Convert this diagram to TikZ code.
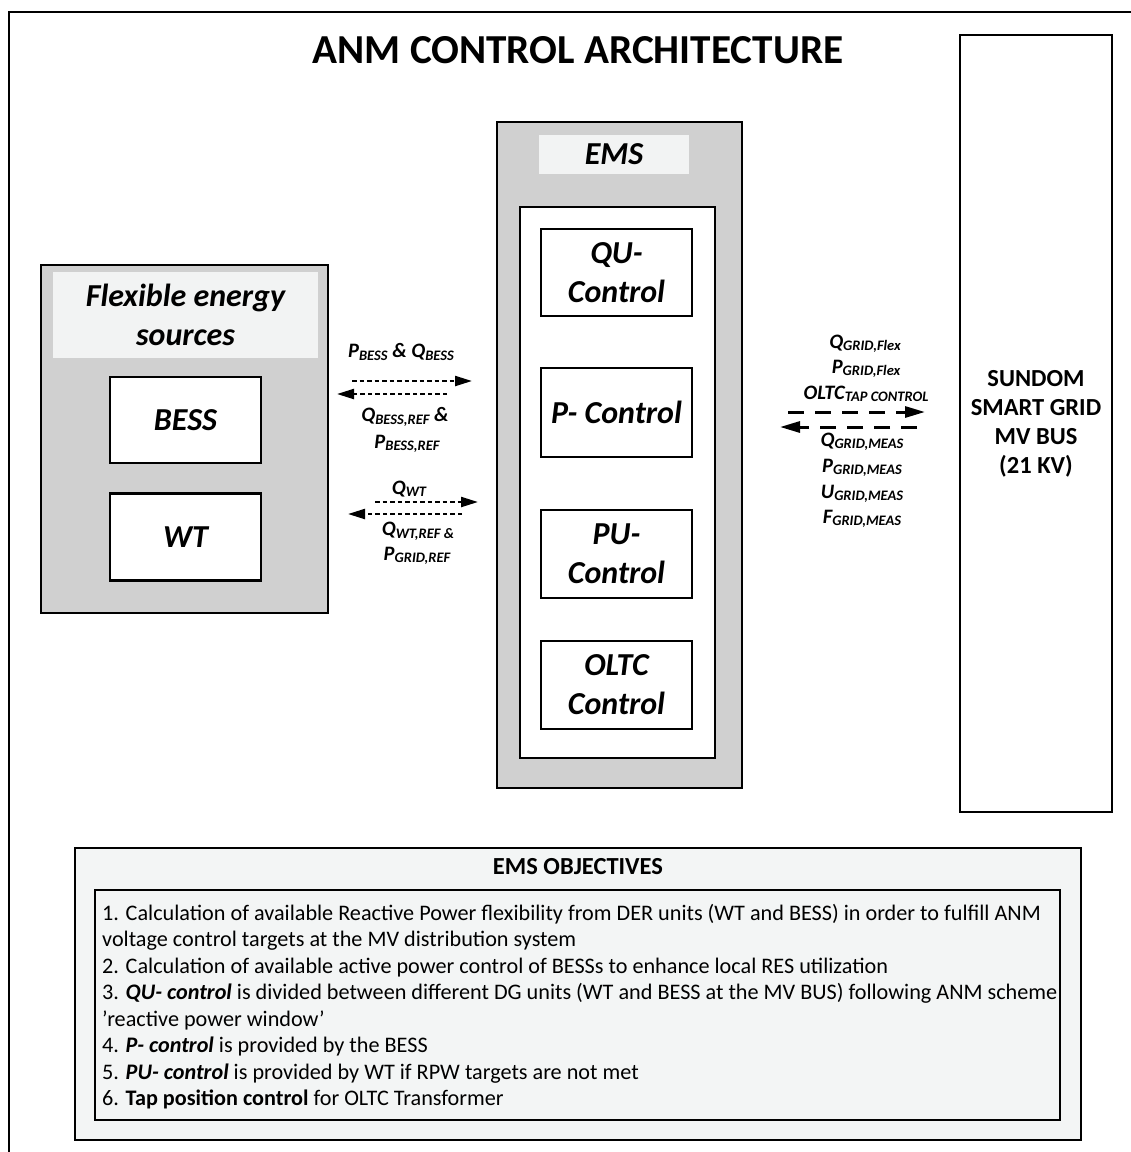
\documentclass[tikz,border=0pt]{standalone}
\usepackage{fontspec}
\setmainfont{Carlito}
\usetikzlibrary{arrows.meta, positioning}
\definecolor{cpanel}{HTML}{D0D0D0}
\definecolor{chead}{HTML}{F2F3F3}
\definecolor{cobj}{HTML}{F3F5F5}
\tikzset{
  panel/.style={draw=black, fill=cpanel, line width=2.4pt},
  header/.style={fill=chead, align=center, font=\fontsize{32}{39}\selectfont\bfseries\itshape},
  unit/.style={draw=black, fill=white, line width=2.4pt, minimum width=151pt, align=center, font=\fontsize{32}{39}\selectfont\bfseries\itshape},
  sig/.style={font=\fontsize{20.5}{22}\selectfont\bfseries\itshape, inner sep=0pt},
  flow/.style={-{Triangle[length=17pt,width=10pt]}, line width=2.2pt, dash pattern=on 4.5pt off 3pt},
  gridflow/.style={-{Triangle[length=20pt,width=11pt]}, line width=3pt, dash pattern=on 16pt off 11pt},
}
\newcommand{\lbl}[2]{#1\raisebox{-2.5pt}{\fontsize{14.5}{15}\selectfont #2}}

\begin{document}
\begin{tikzpicture}[x=1pt, y=-1pt]
  \useasboundingbox (0,0) rectangle (1131,1152);
  \clip (0,0) rectangle (1131,1152);
  \draw[line width=2pt] (9,12) rectangle (1150,1170);
  \node[font=\fontsize{41.2}{45}\selectfont\bfseries] (title) at (578,50) {ANM CONTROL ARCHITECTURE};

  % flexible sources
  \node[panel, minimum width=287pt, minimum height=348pt] (flex) at (184.5,439) {};
  \node[header, minimum width=265pt, minimum height=86pt] (flexhead) at (185.5,314.5) {Flexible energy\\sources};
  \node[unit, minimum height=86pt] (bess) at (185.5,420) {BESS};
  \node[unit, minimum height=87pt, below=28pt of bess] (wt) {WT};

  % EMS
  \node[panel, minimum width=245pt, minimum height=666pt] (ems) at (619.5,455) {};
  \node[header, minimum width=150pt, minimum height=39pt] (emshead) at (614,154.5) {EMS};
  \node[draw=black, fill=white, line width=2.4pt, minimum width=195pt, minimum height=551pt] (emsin) at (617.5,482.5) {};
  \node[unit, minimum height=87pt] (qu) at (616.5,272.5) {QU-\\Control};
  \node[unit, minimum height=89pt] (pc) at (616.5,412.5) {P- Control};
  \node[unit, minimum height=88pt] (pu) at (616.5,554) {PU-\\Control};
  \node[unit, minimum height=88pt] (oltc) at (616.5,685) {OLTC\\Control};

  % grid
  \node[draw=black, fill=white, line width=2.2pt, minimum width=152pt, minimum height=777pt] (bus) at (1036,423.5) {};
  \node[align=center, font=\fontsize{24.5}{29}\selectfont\bfseries] (busname) at (1036,424) {SUNDOM\\SMART GRID\\MV BUS\\(21 KV)};

  % signals BESS / WT
  \coordinate (b1s) at (352,381); \coordinate (b1e) at (472,381);
  \coordinate (b2s) at (447,394); \coordinate (b2e) at (337,394);
  \coordinate (w1s) at (375,502); \coordinate (w1e) at (478,502);
  \coordinate (w2s) at (462,514); \coordinate (w2e) at (348,514);
  \draw[flow] (b1s) -- (b1e); \draw[flow] (b2s) -- (b2e);
  \draw[flow] (w1s) -- (w1e); \draw[flow] (w2s) -- (w2e);
  \node[sig] (lpq) at (401,352) {\lbl{P}{BESS} \& \lbl{Q}{BESS}};
  \node[sig] (lqref) at (405,417) {\lbl{Q}{BESS,REF} \&};
  \node[sig] (lpref) at (407,444) {\lbl{P}{BESS,REF}};
  \node[sig] (lqwt) at (409,489) {\lbl{Q}{WT}};
  \node[sig] (lqwtref) at (418,531) {\lbl{Q}{WT,REF \&}};
  \node[sig] (lpgref) at (417,556) {\lbl{P}{GRID,REF}};

  % signals grid
  \coordinate (g1s) at (788,412); \coordinate (g1e) at (925,412);
  \coordinate (g2s) at (917,427); \coordinate (g2e) at (780,427);
  \draw[gridflow] (g1s) -- (g1e); \draw[gridflow] (g2s) -- (g2e);
  \node[sig] (lqflex) at (865,344) {\lbl{Q}{GRID,Flex}};
  \node[sig] (lpflex) at (866,369) {\lbl{P}{GRID,Flex}};
  \node[sig] (loltc) at (866,394) {\lbl{OLTC}{TAP CONTROL}};
  \node[sig] (lqmeas) at (862,442) {\lbl{Q}{GRID,MEAS}};
  \node[sig] (lpmeas) at (862,468) {\lbl{P}{GRID,MEAS}};
  \node[sig] (lumeas) at (862,494) {\lbl{U}{GRID,MEAS}};
  \node[sig] (lfmeas) at (862,519) {\lbl{F}{GRID,MEAS}};

  % objectives
  \node[draw=black, fill=cobj, line width=2.2pt, minimum width=1006pt, minimum height=292pt] (obj) at (578,994) {};
  \node[font=\fontsize{24.5}{28}\selectfont\bfseries] (objtitle) at (578,867) {EMS OBJECTIVES};
  \node[draw=black, fill=cobj, line width=2.4pt, minimum width=965pt, minimum height=230pt] (objin) at (577.5,1005) {};
  \node[anchor=north west, inner sep=0pt, align=left, font=\fontsize{22.2}{26.5}\selectfont] (objtext) at (102,904) {%
    1. Calculation of available Reactive Power flexibility from DER units (WT and BESS) in order to fulfill ANM\\
    voltage control targets at the MV distribution system\\
    2. Calculation of available active power control of BESSs to enhance local RES utilization\\
    3. \textbf{\textit{QU- control}} is divided between different DG units (WT and BESS at the MV BUS) following ANM scheme\\
    ’reactive power window’\\
    4. \textbf{\textit{P- control}} is provided by the BESS\\
    5. \textbf{\textit{PU- control}} is provided by WT if RPW targets are not met\\
    6. \textbf{Tap position control} for OLTC Transformer};
\end{tikzpicture}
\end{document}
